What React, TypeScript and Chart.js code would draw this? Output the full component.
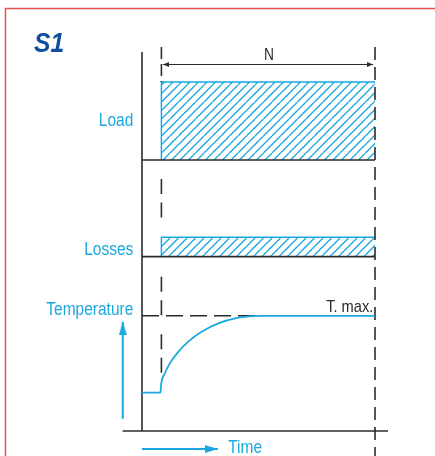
import React, { useEffect, useRef } from "react";
import { Chart, registerables } from "chart.js";

Chart.register(...registerables);

// ---------- diagram values (x = time units, y = level units) ----------
const panelLabels = ["Load", "Losses", "Temperature"];
const panelLabelY = [80.5, 46.4, 30.6];
const periodTime = [1, 12]; // start / end of the N period
const loadLevel = [71.5, 92.1]; // baseline, load value
const lossLevel = [46.0, 51.1]; // baseline, losses value
const tempTime = [0, 0.95, 0.98, 1.18, 1.44, 1.87, 2.38, 3.07, 3.93, 4.79, 5.65, 6.23, 12];
const tempValue = [10.1, 10.1, 12.1, 15.2, 17.9, 20.9, 23.6, 26.2, 28.4, 29.7, 30.3, 30.4, 30.4];
const tMaxLevel = 30.4;
const tMaxDashEnd = 5.9;
const timeAxisRange = [-1, 12.67];
const levelAxisRange = [0, 100];
const endGuideRange = [101.3, -6.6];
const startGuideSegments = [
  [101.3, 92.1],
  [66.5, 56.2],
  [40.7, 30.4],
  [25.5, 15.2],
];
const nArrowRange = [1.08, 11.9];
const nArrowLevel = 96.7;
const tempArrowRange = [3.2, 28.8];
const tempArrowTime = -0.99;
const timeArrowRange = [0, 3.91];
const timeArrowLevel = -4.75;
const extraLabels = ["Time", "T. max.", "N"];
const extraLabelX = [4.44, 11.91, 6.54];
const extraLabelY = [-5.8, 31.5, 97.9];
const titleText = "S1";
const titlePos = [-5.56, 99.9];

const CYAN = "#1ba8e0";
const DARK = "#2b2b2b";
const BLUE = "#0d4f9c";
const RED = "#e8504f";

function makeHatch(color: string) {
  const s = 17;
  const c = document.createElement("canvas");
  c.width = s;
  c.height = s;
  const g = c.getContext("2d")!;
  g.strokeStyle = color;
  g.lineWidth = 1.3;
  for (const k of [-s, -s / 2, 0, s / 2, s]) {
    g.beginPath();
    g.moveTo(k, s);
    g.lineTo(k + s, 0);
    g.stroke();
  }
  return g.createPattern(c, "repeat");
}

function makeArrowHead(color: string, len: number, wid: number) {
  const c = document.createElement("canvas");
  c.width = wid;
  c.height = len * 2;
  const g = c.getContext("2d")!;
  g.fillStyle = color;
  g.beginPath();
  g.moveTo(wid / 2, len);
  g.lineTo(wid, len * 2);
  g.lineTo(0, len * 2);
  g.closePath();
  g.fill();
  return c;
}

function seg(pts: number[][], color: string, width: number, extra: any = {}) {
  return {
    data: pts.map(([x, y]) => ({ x, y })),
    borderColor: color,
    borderWidth: width,
    pointRadius: 0,
    fill: false,
    tension: 0,
    ...extra,
  };
}

const textPlugin = {
  id: "diagramText",
  beforeDraw(chart: any) {
    const ctx = chart.ctx;
    ctx.save();
    ctx.strokeStyle = RED;
    ctx.lineWidth = 1.5;
    ctx.beginPath();
    ctx.moveTo(5.5, chart.height);
    ctx.lineTo(5.5, 8.5);
    ctx.lineTo(chart.width, 8.5);
    ctx.stroke();
    ctx.restore();
  },
  afterDraw(chart: any) {
    const { ctx } = chart;
    const xs = chart.scales.x;
    const ys = chart.scales.y;
    const put = (
      text: string,
      xv: number,
      yv: number,
      size: number,
      color: string,
      align: CanvasTextAlign,
      style = "",
      squeeze = 0.86
    ) => {
      ctx.save();
      ctx.font = `${style}${size}px 'Liberation Sans', Arial, sans-serif`;
      ctx.fillStyle = color;
      ctx.textBaseline = "alphabetic";
      ctx.textAlign = align;
      ctx.translate(xs.getPixelForValue(xv), ys.getPixelForValue(yv));
      ctx.scale(squeeze, 1);
      ctx.fillText(text, 0, 0);
      ctx.restore();
    };
    panelLabels.forEach((t, i) => put(t, -0.45, panelLabelY[i], 18, CYAN, "right"));
    put(extraLabels[0], extraLabelX[0], extraLabelY[0], 18, CYAN, "left");
    put(extraLabels[1], extraLabelX[1], extraLabelY[1], 17, DARK, "right");
    put(extraLabels[2], extraLabelX[2], extraLabelY[2], 16, DARK, "center");
    put(titleText, titlePos[0], titlePos[1], 28, BLUE, "left", "italic bold ", 0.88);
  },
};

export default function App() {
  const ref = useRef<HTMLCanvasElement>(null);

  useEffect(() => {
    if (!ref.current) return;
    const hatch = makeHatch(CYAN);
    const cyanHead = makeArrowHead(CYAN, 13, 8);
    const darkHead = makeArrowHead(DARK, 6, 5);

    const datasets: any[] = [
      // hatched load block
      {
        data: [
          { x: periodTime[0], y: loadLevel[0] },
          { x: periodTime[0], y: loadLevel[1] },
          { x: periodTime[1], y: loadLevel[1] },
        ],
        borderColor: CYAN,
        borderWidth: 1.5,
        backgroundColor: hatch,
        fill: { value: loadLevel[0] },
        pointRadius: 0,
        order: 6,
      },
      // hatched losses block
      {
        data: [
          { x: periodTime[0], y: lossLevel[0] },
          { x: periodTime[0], y: lossLevel[1] },
          { x: periodTime[1], y: lossLevel[1] },
        ],
        borderColor: CYAN,
        borderWidth: 1.5,
        backgroundColor: hatch,
        fill: { value: lossLevel[0] },
        pointRadius: 0,
        order: 6,
      },
      // axes and baselines
      seg([[0, levelAxisRange[0]], [0, levelAxisRange[1]]], DARK, 1.6, { order: 4 }),
      seg([[timeAxisRange[0], 0], [timeAxisRange[1], 0]], DARK, 1.6, { order: 4 }),
      seg([[0, loadLevel[0]], [periodTime[1], loadLevel[0]]], DARK, 1.6, { order: 4 }),
      seg([[0, lossLevel[0]], [periodTime[1], lossLevel[0]]], DARK, 1.6, { order: 4 }),
      // end-of-period dashed guide
      seg([[periodTime[1], endGuideRange[0]], [periodTime[1], endGuideRange[1]]], DARK, 1.6, {
        borderDash: [13, 7],
        order: 3,
      }),
      // start-of-period dashed guide
      ...startGuideSegments.map((s, i) =>
        seg([[periodTime[0], s[0]], [periodTime[0], s[1]]], DARK, 1.6, {
          borderDash: i === 0 ? [12, 5] : [15, 8.5],
          order: 3,
        })
      ),
      // T. max dashed line
      seg([[0, tMaxLevel], [tMaxDashEnd, tMaxLevel]], DARK, 1.6, { borderDash: [17, 7], order: 3 }),
      // temperature curve
      {
        data: tempTime.map((t, i) => ({ x: t, y: tempValue[i] })),
        borderColor: CYAN,
        borderWidth: 1.8,
        pointRadius: 0,
        fill: false,
        cubicInterpolationMode: "monotone",
        order: 2,
      },
      // N dimension arrow
      seg([[nArrowRange[0], nArrowLevel], [nArrowRange[1], nArrowLevel]], DARK, 1, {
        pointRadius: 3,
        pointStyle: darkHead,
        pointRotation: [-90, 90],
        order: 1,
      }),
      // temperature arrow
      seg([[tempArrowTime, tempArrowRange[0]], [tempArrowTime, tempArrowRange[1]]], CYAN, 2, {
        pointRadius: [0, 3],
        pointStyle: cyanHead,
        pointRotation: 0,
        order: 1,
      }),
      // time arrow
      seg([[timeArrowRange[0], timeArrowLevel], [timeArrowRange[1], timeArrowLevel]], CYAN, 2, {
        pointRadius: [0, 3],
        pointStyle: cyanHead,
        pointRotation: 90,
        order: 1,
      }),
    ];

    const chart = new Chart(ref.current, {
      type: "line",
      data: { datasets },
      options: {
        animation: false,
        responsive: false,
        events: [],
        layout: { padding: 0, autoPadding: false },
        scales: {
          x: { type: "linear", min: -7.313, max: 15.09, display: false },
          y: { type: "linear", min: -6.596, max: 113.72, display: false },
        },
        plugins: {
          legend: { display: false },
          tooltip: { enabled: false },
        },
      },
      plugins: [textPlugin],
    } as any);
    return () => chart.destroy();
  }, []);

  return (
    <div style={{ position: "fixed", left: 0, top: 0, width: 435, height: 456, background: "#fff" }}>
      <canvas ref={ref} width={435} height={456} style={{ display: "block" }} />
    </div>
  );
}
